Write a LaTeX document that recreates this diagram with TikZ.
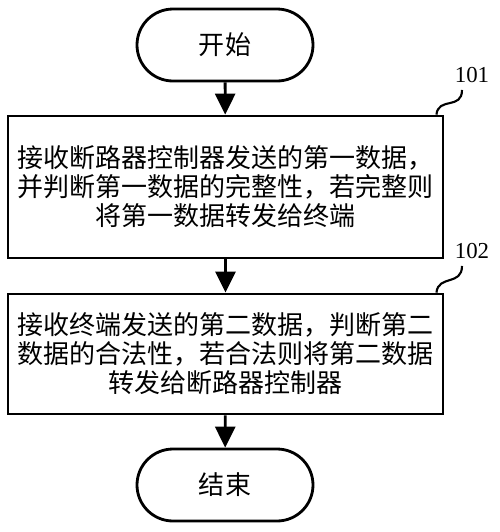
\documentclass[tikz,border=0pt]{standalone}
\usepackage{fontspec}
\setmainfont{Liberation Serif}
\newfontfamily\cjk{Noto Sans CJK SC}
\usetikzlibrary{positioning,arrows.meta}

\begin{document}
\begin{tikzpicture}[
		line width=1.6pt,
		term/.style={draw, minimum width=3.52cm, minimum height=1.44cm, rounded corners=0.72cm, align=center, font=\cjk\fontsize{14.8}{16}\selectfont},
		procbox/.style={draw, minimum width=8.7cm, align=center, font=\cjk\fontsize{14.8}{16.5}\selectfont},
		arr/.style={-{Triangle[length=0.42cm, width=0.4cm]}},
		tag/.style={font=\fontsize{13}{13}\selectfont}
	]
		\useasboundingbox (0,0) rectangle (10,-10.64);
		
		% Draw the terminals
		\node[term] (start) at (4.5,-0.9) {开始};
		\node[term] (stop) at (4.5,-9.7) {结束};
		
		% Draw the boxes
		\node[procbox, minimum height=2.84cm] (step1) at (4.51,-3.74) {接收断路器控制器发送的第一数据，\\并判断第一数据的完整性，若完整则\\将第一数据转发给终端};
		\node[procbox, minimum height=2.4cm] (step2) at (4.51,-7.08) {接收终端发送的第二数据，判断第二\\数据的合法性，若合法则将第二数据\\转发给断路器控制器};
		
		% Place the step numbers
		\node[tag] (lbl101) at (9.44,-1.5) {101};
		\node[tag] (lbl102) at (9.44,-5.02) {102};
		
		% Connect them
		\draw[arr] (start) -- (step1);
		\draw[arr] (step1) -- (step2);
		\draw[arr] (step2) -- (stop);
		
		\draw[line width=1.2pt] ([xshift=-0.16cm]step1.north east) .. controls +(0.04,0.36) and +(0,-0.4) .. ([xshift=-0.2cm]lbl101.south);
		\draw[line width=1.2pt] ([xshift=-0.16cm]step2.north east) .. controls +(0.04,0.36) and +(0,-0.4) .. ([xshift=-0.2cm]lbl102.south);
		
	\end{tikzpicture}
\end{document}
